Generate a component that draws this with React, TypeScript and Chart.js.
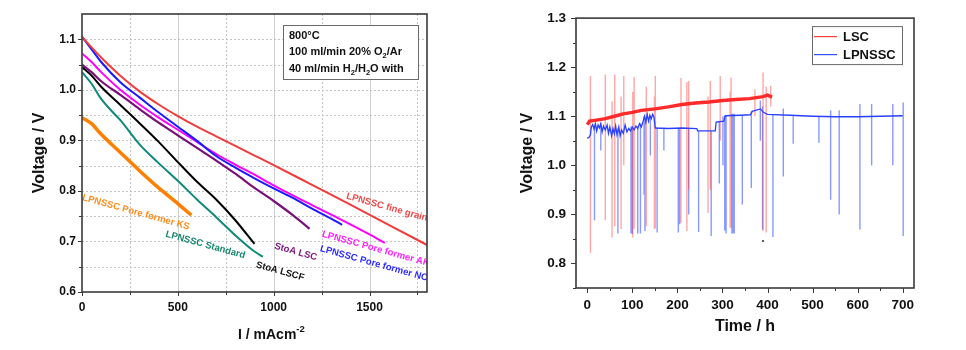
import React, { useEffect, useRef } from "react";
import { Chart, registerables } from "chart.js";

Chart.register(...registerables);

const FONT = "Arial, 'Liberation Sans', sans-serif";

// ---------------- Left chart: I-V curves ----------------
const fineGrainsI = [0, 50, 100, 200, 300, 400, 500, 600, 700, 800, 900, 1000, 1200, 1400, 1600, 1800];
const fineGrainsV = [1.105, 1.084, 1.064, 1.028, 0.997, 0.971, 0.948, 0.927, 0.908, 0.889, 0.870, 0.851, 0.812, 0.773, 0.733, 0.693];

const poreNcI = [0, 50, 100, 200, 300, 400, 500, 600, 700, 800, 900, 1000, 1100, 1200, 1300, 1357];
const poreNcV = [1.105, 1.08, 1.055, 1.015, 0.985, 0.955, 0.927, 0.899, 0.869, 0.846, 0.825, 0.805, 0.786, 0.765, 0.745, 0.733];

const poreAkI = [0, 50, 100, 200, 300, 400, 500, 600, 700, 800, 900, 1000, 1100, 1200, 1300, 1400, 1500, 1580];
const poreAkV = [1.072, 1.055, 1.035, 1.0, 0.971, 0.945, 0.921, 0.897, 0.873, 0.852, 0.832, 0.811, 0.791, 0.772, 0.753, 0.734, 0.714, 0.697];

const stoaLscI = [0, 50, 100, 200, 300, 400, 500, 600, 700, 800, 900, 1000, 1100, 1187];
const stoaLscV = [1.05, 1.035, 1.017, 0.99, 0.962, 0.935, 0.91, 0.885, 0.86, 0.834, 0.806, 0.78, 0.752, 0.725];

const stoaLscfI = [0, 50, 100, 200, 300, 400, 500, 600, 700, 800, 900];
const stoaLscfV = [1.045, 1.028, 1.006, 0.97, 0.934, 0.897, 0.857, 0.818, 0.783, 0.742, 0.695];

const standardI = [0, 50, 100, 150, 200, 300, 400, 500, 600, 700, 800, 900, 944];
const standardV = [1.035, 1.012, 0.982, 0.96, 0.94, 0.892, 0.855, 0.82, 0.783, 0.748, 0.712, 0.68, 0.67];

const poreKsI = [0, 50, 100, 200, 300, 400, 500, 570];
const poreKsV = [0.945, 0.933, 0.912, 0.876, 0.84, 0.806, 0.775, 0.752];

const ivLabelText = [
  "LPNSSC fine grains",
  "LPNSSC Pore former KS",
  "LPNSSC Standard",
  "StoA LSCF",
  "StoA LSC",
  "LPNSSC Pore former AK",
  "LPNSSC Pore former NC",
];
const ivLabelI = [1380, 3, 437, 909, 1005, 1253, 1243];
const ivLabelV = [0.79, 0.787, 0.715, 0.654, 0.691, 0.715, 0.686];
const ivLabelColor = ["#f04848", "#ff8a1a", "#17876f", "#111111", "#7d147d", "#ff20ff", "#2a2aff"];

const ivMajorX = [0, 500, 1000, 1500];
const ivMinorX = [250, 750, 1250, 1750];
const ivMajorY = [0.6, 0.7, 0.8, 0.9, 1.0, 1.1];
const ivMinorY = [0.65, 0.75, 0.85, 0.95, 1.05];

// ---------------- Right chart: durability ----------------
const lscTime = [0, 5, 20, 40, 60, 80, 100, 120, 150, 180, 210, 240, 270, 300, 330, 360, 390, 400, 410];
const lscVoltage = [1.083, 1.09, 1.092, 1.095, 1.1, 1.105, 1.108, 1.112, 1.115, 1.119, 1.124, 1.127, 1.129, 1.132, 1.134, 1.136, 1.14, 1.143, 1.139];

const lscSpikeTime = [7, 40, 55, 61, 75, 81, 101, 104, 131, 149, 151, 208, 221, 225, 268, 273, 295, 317, 319, 372, 390, 397, 407];
const lscSpikeTop = [1.182, 1.185, 1.13, 1.185, 1.14, 1.182, 1.15, 1.18, 1.16, 1.14, 1.182, 1.178, 1.17, 1.172, 1.14, 1.172, 1.182, 1.15, 1.179, 1.155, 1.189, 1.16, 1.162];
const lscSpikeBottom = [0.822, 0.888, 0.853, 0.876, 0.87, 1.0, 0.853, 0.87, 0.876, 0.87, 0.872, 0.883, 0.866, 0.95, 0.903, 0.95, 1.05, 0.873, 0.873, 1.1, 0.866, 0.863, 1.12];

const lpnsscTime = [0, 4, 7, 9, 12, 15, 18, 21, 24, 27, 30, 33, 36, 40, 44, 47, 50, 54, 57, 60, 63, 66, 70, 73, 76, 80, 84, 88, 92, 96, 100, 104, 108, 112, 116, 120, 124, 127, 130, 133, 136, 139, 142, 145, 148, 151, 180, 210, 243, 245, 284, 286, 303, 306, 340, 362, 366, 384, 391, 400, 450, 500, 550, 600, 650, 700];
const lpnsscVoltage = [1.055, 1.057, 1.062, 1.078, 1.083, 1.074, 1.085, 1.07, 1.082, 1.076, 1.085, 1.068, 1.08, 1.072, 1.082, 1.065, 1.078, 1.06, 1.075, 1.064, 1.08, 1.062, 1.078, 1.06, 1.072, 1.065, 1.082, 1.068, 1.075, 1.07, 1.078, 1.072, 1.08, 1.075, 1.085, 1.078, 1.09, 1.1, 1.088, 1.104, 1.09, 1.102, 1.095, 1.104, 1.098, 1.076, 1.075, 1.076, 1.075, 1.07, 1.07, 1.088, 1.09, 1.101, 1.102, 1.103, 1.11, 1.115, 1.108, 1.104, 1.102, 1.1, 1.099, 1.099, 1.1, 1.101];

const lpnsscSpikeTime = [16, 30, 68, 97, 100, 112, 118, 126, 128, 140, 155, 170, 202, 205, 225, 247, 275, 293, 301, 305, 308, 321, 324, 326, 344, 364, 384, 389, 412, 435, 457, 514, 540, 559, 605, 631, 678, 701];
const lpnsscSpikeTop = [1.08, 1.085, 1.075, 1.08, 1.078, 1.08, 1.085, 1.1, 1.09, 1.1, 1.078, 1.076, 1.076, 1.076, 1.076, 1.07, 1.07, 1.09, 1.1, 1.101, 1.101, 1.105, 1.105, 1.105, 1.102, 1.11, 1.132, 1.12, 1.103, 1.116, 1.1, 1.1, 1.112, 1.112, 1.125, 1.125, 1.125, 1.128];
const lpnsscSpikeBottom = [0.888, 1.03, 0.861, 0.861, 0.86, 0.861, 0.861, 0.94, 0.866, 1.02, 0.863, 1.03, 0.863, 0.88, 0.9, 0.864, 0.856, 0.963, 1.0, 0.867, 0.861, 0.861, 0.861, 0.861, 0.92, 0.954, 1.05, 0.869, 0.854, 0.977, 1.044, 1.046, 0.93, 0.9, 0.869, 1.0, 1.0, 0.856];

const strayTime = [390];
const strayVoltage = [0.846];

const tMajorX = [0, 100, 200, 300, 400, 500, 600, 700];
const tMinorX = [50, 150, 250, 350, 450, 550, 650];
const tMajorY = [0.8, 0.9, 1.0, 1.1, 1.2, 1.3];
const tMinorY = [0.75, 0.85, 0.95, 1.05, 1.15, 1.25];

// ---------------- helpers ----------------
type Seg = { t: string; sub?: boolean; sup?: boolean };

function drawRich(ctx: CanvasRenderingContext2D, segs: Seg[], x: number, y: number, size: number) {
  let cx = x;
  ctx.textAlign = "left";
  ctx.textBaseline = "middle";
  for (const s of segs) {
    const small = s.sub || s.sup;
    const fs = small ? size * 0.68 : size;
    ctx.font = `bold ${fs}px ${FONT}`;
    const dy = s.sub ? size * 0.32 : s.sup ? -size * 0.38 : 0;
    ctx.fillText(s.t, cx, y + dy);
    cx += ctx.measureText(s.t).width;
  }
}

function zip(xs: number[], ys: number[]) {
  return xs.map((x, i) => ({ x, y: ys[i] }));
}

function spikes(ts: number[], tops: number[], bottoms: number[]) {
  const out: { x: number; y: number | null }[] = [];
  ts.forEach((t, i) => {
    out.push({ x: t, y: tops[i] });
    out.push({ x: t, y: bottoms[i] });
    out.push({ x: t, y: null });
  });
  return out;
}

function line(ctx: CanvasRenderingContext2D, x1: number, y1: number, x2: number, y2: number) {
  ctx.beginPath();
  ctx.moveTo(x1, y1);
  ctx.lineTo(x2, y2);
  ctx.stroke();
}

function drawFrameTicks(chart: any, mx: number[], nx: number[], my: number[], ny: number[], majLen: number, minLen: number) {
  const { ctx, chartArea: ca, scales } = chart;
  const xs = scales.x;
  const ys = scales.y;
  ctx.save();
  ctx.strokeStyle = "#3a3a3a";
  ctx.lineWidth = 1;
  for (const v of mx) {
    const p = Math.round(xs.getPixelForValue(v)) + 0.5;
    line(ctx, p, ca.bottom, p, ca.bottom + majLen);
  }
  for (const v of nx) {
    const p = Math.round(xs.getPixelForValue(v)) + 0.5;
    line(ctx, p, ca.bottom, p, ca.bottom + minLen);
  }
  for (const v of my) {
    const p = Math.round(ys.getPixelForValue(v)) + 0.5;
    line(ctx, ca.left - majLen, p, ca.left, p);
  }
  for (const v of ny) {
    const p = Math.round(ys.getPixelForValue(v)) + 0.5;
    line(ctx, ca.left - minLen, p, ca.left, p);
  }
  ctx.lineWidth = 1.6;
  ctx.strokeRect(ca.left, ca.top, ca.right - ca.left, ca.bottom - ca.top);
  ctx.restore();
}

const ivPlugin = {
  id: "ivDecor",
  beforeDatasetsDraw(chart: any) {
    const { ctx, chartArea: ca, scales } = chart;
    const xs = scales.x;
    const ys = scales.y;
    ctx.save();
    ctx.lineWidth = 1;
    for (const v of [...ivMajorX, ...ivMinorX]) {
      if (v <= 0) continue;
      const p = Math.round(xs.getPixelForValue(v)) + 0.5;
      if (v % 500 === 0) {
        ctx.setLineDash([]);
        ctx.strokeStyle = "#cfcfcf";
      } else {
        ctx.setLineDash([2, 2]);
        ctx.strokeStyle = "#c4c4c4";
      }
      line(ctx, p, ca.top, p, ca.bottom);
    }
    ctx.setLineDash([2, 2]);
    ctx.strokeStyle = "#c4c4c4";
    for (const v of [...ivMajorY, ...ivMinorY]) {
      if (v <= 0.6) continue;
      const p = Math.round(ys.getPixelForValue(v)) + 0.5;
      line(ctx, ca.left, p, ca.right, p);
    }
    ctx.restore();
  },
  afterDatasetsDraw(chart: any) {
    const { ctx, chartArea: ca, scales } = chart;
    const xs = scales.x;
    const ys = scales.y;
    ctx.save();
    ctx.beginPath();
    ctx.rect(ca.left, ca.top, ca.right - ca.left, ca.bottom - ca.top);
    ctx.clip();
    ctx.font = `bold 9.5px ${FONT}`;
    ctx.textAlign = "left";
    ctx.textBaseline = "middle";
    ivLabelText.forEach((txt, i) => {
      const px = xs.getPixelForValue(ivLabelI[i]);
      const py = ys.getPixelForValue(ivLabelV[i]);
      ctx.save();
      ctx.translate(px, py);
      ctx.rotate((15.5 * Math.PI) / 180);
      ctx.fillStyle = ivLabelColor[i];
      ctx.fillText(txt, 0, 0);
      ctx.restore();
    });
    ctx.restore();

    const bx = ca.right - 144;
    const by = ca.top + 11;
    ctx.save();
    ctx.fillStyle = "#ffffff";
    ctx.fillRect(bx, by, 135, 54);
    ctx.strokeStyle = "#6a6a6a";
    ctx.lineWidth = 1;
    ctx.strokeRect(bx + 0.5, by + 0.5, 135, 54);
    ctx.fillStyle = "#111";
    drawRich(ctx, [{ t: "800°C" }], bx + 6, by + 11, 11);
    drawRich(ctx, [{ t: "100 ml/min 20% O" }, { t: "2", sub: true }, { t: "/Ar" }], bx + 6, by + 27, 11);
    drawRich(ctx, [{ t: "40 ml/min H" }, { t: "2", sub: true }, { t: "/H" }, { t: "2", sub: true }, { t: "O with" }], bx + 6, by + 44, 11);
    ctx.restore();
  },
  afterDraw(chart: any) {
    drawFrameTicks(chart, ivMajorX, ivMinorX, ivMajorY, ivMinorY, 4, 3);
    const { ctx, chartArea: ca } = chart;
    ctx.save();
    ctx.fillStyle = "#111";
    drawRich(ctx, [{ t: "I / mAcm" }, { t: "-2", sup: true }], ca.left + 156, 335, 14);
    ctx.translate(40, (ca.top + ca.bottom) / 2);
    ctx.rotate(-Math.PI / 2);
    ctx.font = `bold 16px ${FONT}`;
    ctx.textAlign = "center";
    ctx.textBaseline = "middle";
    ctx.fillText("Voltage / V", 0, 0);
    ctx.restore();
  },
};

const timePlugin = {
  id: "timeDecor",
  afterDraw(chart: any) {
    drawFrameTicks(chart, tMajorX, tMinorX, tMajorY, tMinorY, 5, 3);
    const { ctx, chartArea: ca } = chart;
    ctx.save();
    const lx = ca.right - 102;
    const ly = ca.top + 8;
    ctx.fillStyle = "#fff";
    ctx.fillRect(lx, ly, 90, 38);
    ctx.strokeStyle = "#6a6a6a";
    ctx.lineWidth = 1;
    ctx.strokeRect(lx + 0.5, ly + 0.5, 90, 38);
    ctx.lineWidth = 1.2;
    ctx.strokeStyle = "#ff4040";
    line(ctx, lx + 2, ly + 10.5, lx + 25, ly + 10.5);
    ctx.strokeStyle = "#3050ff";
    line(ctx, lx + 2, ly + 28.5, lx + 25, ly + 28.5);
    ctx.fillStyle = "#111";
    ctx.font = `bold 13px ${FONT}`;
    ctx.textAlign = "left";
    ctx.textBaseline = "middle";
    ctx.fillText("LSC", lx + 31, ly + 11);
    ctx.fillText("LPNSSC", lx + 31, ly + 29);
    ctx.font = `bold 16px ${FONT}`;
    ctx.textAlign = "center";
    ctx.fillText("Time / h", (ca.left + ca.right) / 2, 327);
    ctx.translate(48, (ca.top + ca.bottom) / 2);
    ctx.rotate(-Math.PI / 2);
    ctx.fillText("Voltage / V", 0, 0);
    ctx.restore();
  },
};

function ivConfig(): any {
  const series = [
    { label: "LPNSSC fine grains", I: fineGrainsI, V: fineGrainsV, color: "#f23c3c", w: 2 },
    { label: "LPNSSC Pore former NC", I: poreNcI, V: poreNcV, color: "#1a1aff", w: 2 },
    { label: "LPNSSC Pore former AK", I: poreAkI, V: poreAkV, color: "#ff00ff", w: 2 },
    { label: "StoA LSC", I: stoaLscI, V: stoaLscV, color: "#7a0f7a", w: 2.2 },
    { label: "StoA LSCF", I: stoaLscfI, V: stoaLscfV, color: "#000000", w: 2 },
    { label: "LPNSSC Standard", I: standardI, V: standardV, color: "#0f8a7a", w: 2 },
    { label: "LPNSSC Pore former KS", I: poreKsI, V: poreKsV, color: "#ff8000", w: 3.5 },
  ];
  return {
    type: "scatter",
    data: {
      datasets: series.map((s) => ({
        label: s.label,
        data: zip(s.I, s.V),
        showLine: true,
        borderColor: s.color,
        backgroundColor: s.color,
        borderWidth: s.w,
        pointRadius: 0,
        cubicInterpolationMode: "monotone",
      })),
    },
    options: {
      responsive: false,
      animation: false,
      events: [],
      layout: { padding: { top: 14, right: 53, left: 0, bottom: 0 } },
      plugins: { legend: { display: false }, tooltip: { enabled: false } },
      scales: {
        x: {
          type: "linear",
          min: 0,
          max: 1800,
          afterBuildTicks: (s: any) => {
            s.ticks = ivMajorX.map((v) => ({ value: v }));
          },
          afterFit: (s: any) => {
            s.height = 58;
          },
          ticks: { color: "#111", font: { family: FONT, size: 12, weight: "bold" }, padding: 8, maxRotation: 0, callback: (v: any) => String(v) },
          grid: { display: true, drawOnChartArea: false, drawTicks: false },
          border: { display: false },
        },
        y: {
          type: "linear",
          min: 0.6,
          max: 1.15,
          afterBuildTicks: (s: any) => {
            s.ticks = ivMajorY.map((v) => ({ value: v }));
          },
          afterFit: (s: any) => {
            s.width = 82;
          },
          ticks: { color: "#111", font: { family: FONT, size: 12, weight: "bold" }, padding: 6, callback: (v: any) => Number(v).toFixed(1) },
          grid: { display: true, drawOnChartArea: false, drawTicks: false },
          border: { display: false },
        },
      },
    },
    plugins: [ivPlugin],
  };
}

function timeConfig(): any {
  return {
    type: "scatter",
    data: {
      datasets: [
        {
          label: "LSC",
          data: zip(lscTime, lscVoltage),
          showLine: true,
          borderColor: "#ff2a2a",
          borderWidth: 3.4,
          pointRadius: 0,
          order: 0,
        },
        {
          label: "LPNSSC",
          data: zip(lpnsscTime, lpnsscVoltage),
          showLine: true,
          borderColor: "#2a40ff",
          borderWidth: 1.3,
          pointRadius: 0,
          order: 1,
        },
        {
          label: "LSC spikes",
          data: spikes(lscSpikeTime, lscSpikeTop, lscSpikeBottom),
          showLine: true,
          spanGaps: false,
          borderColor: "rgba(255,60,60,0.45)",
          borderWidth: 1.4,
          pointRadius: 0,
          order: 2,
        },
        {
          label: "LPNSSC spikes",
          data: spikes(lpnsscSpikeTime, lpnsscSpikeTop, lpnsscSpikeBottom),
          showLine: true,
          spanGaps: false,
          borderColor: "rgba(40,70,255,0.55)",
          borderWidth: 1.4,
          pointRadius: 0,
          order: 3,
        },
        {
          label: "stray",
          data: zip(strayTime, strayVoltage),
          showLine: false,
          pointRadius: 1,
          backgroundColor: "#222",
          borderWidth: 0,
          order: 4,
        },
      ],
    },
    options: {
      responsive: false,
      animation: false,
      events: [],
      layout: { padding: { top: 15, right: 52, left: 0, bottom: 0 } },
      plugins: { legend: { display: false }, tooltip: { enabled: false } },
      scales: {
        x: {
          type: "linear",
          min: -25,
          max: 725,
          afterBuildTicks: (s: any) => {
            s.ticks = tMajorX.map((v) => ({ value: v }));
          },
          afterFit: (s: any) => {
            s.height = 62;
          },
          ticks: { color: "#111", font: { family: FONT, size: 13.5, weight: "bold" }, padding: 9, maxRotation: 0, callback: (v: any) => String(v) },
          grid: { display: true, drawOnChartArea: false, drawTicks: false },
          border: { display: false },
        },
        y: {
          type: "linear",
          min: 0.75,
          max: 1.3,
          afterBuildTicks: (s: any) => {
            s.ticks = tMajorY.map((v) => ({ value: v }));
          },
          afterFit: (s: any) => {
            s.width = 96;
          },
          ticks: { color: "#111", font: { family: FONT, size: 13.5, weight: "bold" }, padding: 10, callback: (v: any) => Number(v).toFixed(1) },
          grid: { display: true, drawOnChartArea: false, drawTicks: false },
          border: { display: false },
        },
      },
    },
    plugins: [timePlugin],
  };
}

export default function App() {
  const leftRef = useRef<HTMLCanvasElement>(null);
  const rightRef = useRef<HTMLCanvasElement>(null);
  useEffect(() => {
    const c1 = new Chart(leftRef.current as HTMLCanvasElement, ivConfig());
    const c2 = new Chart(rightRef.current as HTMLCanvasElement, timeConfig());
    return () => {
      c1.destroy();
      c2.destroy();
    };
  }, []);
  return (
    <div style={{ position: "absolute", left: 0, top: 0, width: 966, height: 350, background: "#fff" }}>
      <canvas ref={leftRef} width={480} height={350} style={{ position: "absolute", left: 0, top: 0, width: 480, height: 350 }} />
      <canvas ref={rightRef} width={486} height={350} style={{ position: "absolute", left: 480, top: 0, width: 486, height: 350 }} />
    </div>
  );
}
